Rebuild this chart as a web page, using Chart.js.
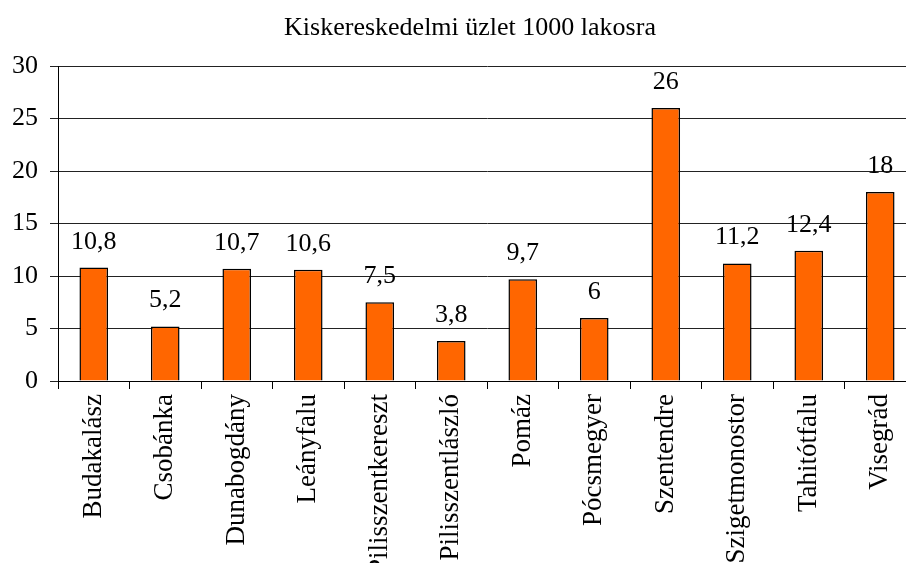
<!DOCTYPE html>
<html>
<head>
<meta charset="utf-8">
<script src="https://cdn.jsdelivr.net/npm/chart.js@4"></script>
<style>
  html, body { margin: 0; padding: 0; background: #fff; overflow: hidden; }
  #wrap { width: 940px; height: 563px; }
</style>
</head>
<body>
<div id="wrap"><canvas id="chart" width="940" height="563"></canvas></div>
<script>
// Kiskereskedelmi üzletek száma 1000 lakosra, településenként
const telepulesek = [
  'Budakalász', 'Csobánka', 'Dunabogdány', 'Leányfalu', 'Pilisszentkereszt',
  'Pilisszentlászló', 'Pomáz', 'Pócsmegyer', 'Szentendre', 'Szigetmonostor',
  'Tahitótfalu', 'Visegrád',
];
const uzletek = [10.8, 5.2, 10.7, 10.6, 7.5, 3.8, 9.7, 6, 26, 11.2, 12.4, 18];
const yTicks = [0, 5, 10, 15, 20, 25, 30];
const cim = 'Kiskereskedelmi üzlet 1000 lakosra';

const FONT = "'Liberation Serif', 'Times New Roman', serif";

// Title centred on the whole canvas (the built-in one centres on the padded box)
const canvasTitle = {
  id: 'canvasTitle',
  afterDraw(chart) {
    const ctx = chart.ctx;
    ctx.save();
    ctx.font = '26px ' + FONT;
    ctx.fillStyle = '#000';
    ctx.textAlign = 'center';
    ctx.textBaseline = 'middle';
    ctx.fillText(cim, chart.width / 2, 28.6);
    ctx.restore();
  },
};

// Value labels above each bar, Hungarian decimal comma
const valueLabels = {
  id: 'valueLabels',
  afterDatasetsDraw(chart) {
    const ctx = chart.ctx;
    const meta = chart.getDatasetMeta(0);
    ctx.save();
    ctx.font = '26px ' + FONT;
    ctx.fillStyle = '#000';
    ctx.textAlign = 'center';
    ctx.textBaseline = 'alphabetic';
    meta.data.forEach((bar, i) => {
      const txt = String(uzletek[i]).replace('.', ',');
      ctx.fillText(txt, bar.x, bar.y - 19);
    });
    ctx.restore();
  },
};

new Chart(document.getElementById('chart'), {
  type: 'bar',
  data: {
    labels: telepulesek,
    datasets: [{
      data: uzletek,
      backgroundColor: '#ff6600',
      borderColor: '#000',
      borderWidth: 1.5,
      barPercentage: 0.4,
      categoryPercentage: 1,
    }],
  },
  options: {
    responsive: false,
    animation: false,
    devicePixelRatio: 1,
    layout: { padding: { top: 66, right: 24, bottom: 0, left: 0 } },
    plugins: {
      legend: { display: false },
      tooltip: { enabled: false },
      title: { display: false },
    },
    scales: {
      x: {
        offset: true,
        grid: { drawOnChartArea: false, drawTicks: true, tickLength: 8, color: '#000' },
        border: { color: '#000', width: 1 },
        ticks: {
          autoSkip: false,
          minRotation: 90,
          maxRotation: 90,
          padding: 5,
          color: '#000',
          font: { family: FONT, size: 27 },
        },
        afterFit(scale) { scale.height = 182; },
      },
      y: {
        min: 0,
        max: 30,
        afterBuildTicks(scale) { scale.ticks = yTicks.map(v => ({ value: v })); },
        grid: { color: '#222', tickLength: 8 },
        border: { color: '#000', width: 1 },
        ticks: {
          padding: 12,
          color: '#000',
          font: { family: FONT, size: 26 },
        },
        afterFit(scale) { scale.width = 58; },
      },
    },
  },
  plugins: [valueLabels, canvasTitle],
});
</script>
</body>
</html>
